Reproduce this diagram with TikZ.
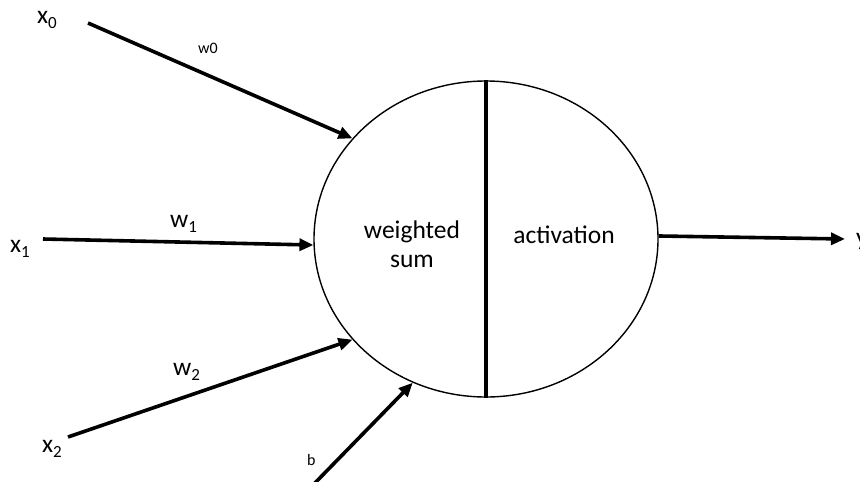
\documentclass[tikz,border=0pt]{standalone}
\usepackage{fontspec}
\setmainfont{Carlito}
\usetikzlibrary{arrows.meta,shapes.geometric}
\newcommand{\lblsub}[2]{#1\raisebox{-5pt}{\fontsize{17}{17}\selectfont #2}}
\begin{document}
\begin{tikzpicture}[x=1pt,y=-1pt,
  arr/.style={line width=3.6pt,-{Triangle[length=14pt,width=12pt]}},
  big/.style={font=\fontsize{25.5}{29}\selectfont, inner sep=0pt},
  small/.style={font=\fontsize{16}{18}\selectfont, inner sep=0pt}]
\useasboundingbox (0,0) rectangle (860,482);
\node[ellipse, draw, line width=1.4pt, minimum width=344pt, minimum height=316pt, inner sep=0pt] (neuron) at (486,239) {};
\draw[line width=3.6pt] (neuron.north) -- (neuron.south);
\node[big, align=center, anchor=base] (ws) at (412,267) {weighted\\sum};
\node[big, anchor=base] (act) at (564,243) {activation};
% inputs
\coordinate (s0) at (88,23);
\coordinate (s1) at (43,239);
\coordinate (s2) at (68,437);
\coordinate (sb) at (312,486);
\coordinate (oe) at (845,239);
\draw[arr] (s0) -- (neuron.143);
\draw[arr] (s1) -- (neuron.182);
\draw[arr] (s2) -- (neuron.217.5);
\draw[arr] (sb) -- (neuron.243.4);
\draw[arr] (neuron.1.5) -- (oe);
% labels
\node[big, anchor=base west] (x0) at (37,23) {\lblsub{x}{0}};
\node[big, anchor=base west] (x1) at (10,252) {\lblsub{x}{1}};
\node[big, anchor=base west] (x2) at (42,452) {\lblsub{x}{2}};
\node[small, anchor=base west] (w0) at (198,53) {w0};
\node[big, anchor=base west] (w1) at (170,227) {\lblsub{w}{1}};
\node[big, anchor=base west] (w2) at (173,375) {\lblsub{w}{2}};
\node[small, anchor=base west] (b) at (307,465) {b};
\node[big, anchor=base west] (y) at (856,245) {y};
\end{tikzpicture}
\end{document}
